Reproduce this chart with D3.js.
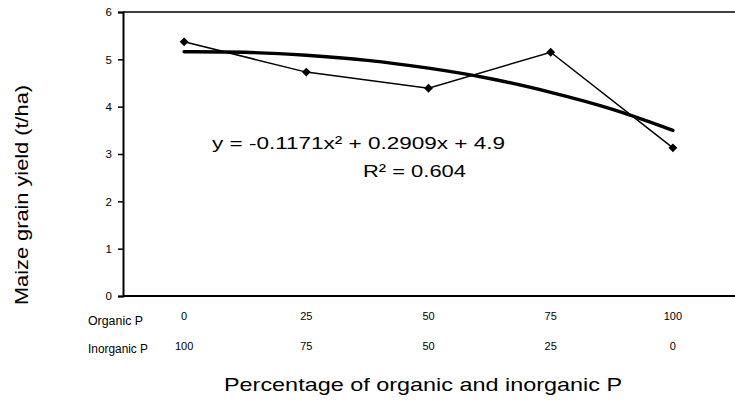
<!DOCTYPE html>
<html>
<head>
<meta charset="utf-8">
<script src="https://cdn.jsdelivr.net/npm/d3@7"></script>
<style>
  body { margin: 0; background: #fff; }
  svg { display: block; font-family: "Liberation Sans", Arial, sans-serif; }
</style>
</head>
<body>
<svg id="chart"></svg>
<script>
// organic / inorganic share of P (%) and measured yield
var organicP = ["0", "25", "50", "75", "100"];
var inorganicP = ["100", "75", "50", "25", "0"];
var yieldValues = [5.37, 4.73, 4.39, 5.15, 3.13];

// polynomial trendline at half-category steps
var trendPos = [0, 0.5, 1, 1.5, 2, 2.5, 3, 3.5, 4];
var trendValues = [5.16, 5.16, 5.09, 4.99, 4.82, 4.61, 4.31, 3.97, 3.50];

var yTicks = [0, 1, 2, 3, 4, 5, 6];
var equation = "y = -0.1171x² + 0.2909x + 4.9";
var rSquared = "R² = 0.604";

var W = 735, H = 404;
var margin = { top: 12, right: 1, bottom: 108, left: 123 };
var width = W - margin.left - margin.right,
    height = H - margin.top - margin.bottom;

var svg = d3.select("#chart").attr("width", W).attr("height", H);
var chart = svg.append("g")
    .attr("transform", "translate(" + margin.left + "," + margin.top + ")");

var x = d3.scaleLinear().domain([-0.5, 4.5]).range([0, width]);
var y = d3.scaleLinear().domain([0, 6]).range([height, 0]);

// frame: top border and bottom axis line
chart.append("line")
    .attr("x1", 0).attr("x2", W - margin.left)
    .attr("y1", 0).attr("y2", 0)
    .attr("stroke", "#000").attr("stroke-width", 1.5);
chart.append("line")
    .attr("x1", 0).attr("x2", W - margin.left)
    .attr("y1", height).attr("y2", height)
    .attr("stroke", "#000").attr("stroke-width", 2);

var yAxis = d3.axisLeft(y).tickValues(yTicks).tickSize(5).tickPadding(6)
    .tickFormat(d3.format("d"));
var yG = chart.append("g").call(yAxis);
yG.select(".domain").attr("stroke-width", 2);
yG.selectAll(".tick line").attr("stroke-width", 1.5);
yG.selectAll(".tick text")
    .attr("font-size", 11.5)
    .attr("font-family", "Liberation Sans, Arial, sans-serif")
    .attr("fill", "#000");

// trendline
var trendLine = d3.line()
    .x(function(d, i) { return x(trendPos[i]); })
    .y(function(d) { return y(d); })
    .curve(d3.curveBasis);
chart.append("path")
    .datum(trendValues)
    .attr("d", trendLine)
    .attr("fill", "none")
    .attr("stroke", "#000")
    .attr("stroke-width", 3.4)
    .attr("stroke-linecap", "round");

// observed series
var dataLine = d3.line()
    .x(function(d, i) { return x(i); })
    .y(function(d) { return y(d); });
chart.append("path")
    .datum(yieldValues)
    .attr("d", dataLine)
    .attr("fill", "none")
    .attr("stroke", "#000")
    .attr("stroke-width", 1.5);

var diamond = d3.symbol().type(d3.symbolDiamond2).size(50);
chart.selectAll(".marker")
    .data(yieldValues)
    .enter().append("path")
    .attr("class", "marker")
    .attr("d", diamond)
    .attr("transform", function(d, i) {
        return "translate(" + x(i) + "," + y(d) + ")";
    })
    .attr("fill", "#000");

// category rows under the axis
chart.selectAll(".org")
    .data(organicP)
    .enter().append("text")
    .attr("x", function(d, i) { return x(i); })
    .attr("y", height + 24)
    .attr("text-anchor", "middle")
    .attr("font-size", 11)
    .text(function(d) { return d; });
chart.selectAll(".inorg")
    .data(inorganicP)
    .enter().append("text")
    .attr("x", function(d, i) { return x(i); })
    .attr("y", height + 54)
    .attr("text-anchor", "middle")
    .attr("font-size", 11)
    .text(function(d) { return d; });

svg.append("text").attr("x", 88).attr("y", 325)
    .attr("font-size", 12)
    .attr("textLength", 55).attr("lengthAdjust", "spacingAndGlyphs")
    .text("Organic P");
svg.append("text").attr("x", 88).attr("y", 353)
    .attr("font-size", 12)
    .attr("textLength", 60).attr("lengthAdjust", "spacingAndGlyphs")
    .text("Inorganic P");

// trendline labels
svg.append("text").attr("x", 212).attr("y", 149)
    .attr("font-size", 17)
    .attr("textLength", 293).attr("lengthAdjust", "spacingAndGlyphs")
    .text(equation);
svg.append("text").attr("x", 363).attr("y", 177)
    .attr("font-size", 17)
    .attr("textLength", 103).attr("lengthAdjust", "spacingAndGlyphs")
    .text(rSquared);

// axis titles
svg.append("text")
    .attr("x", 224).attr("y", 391)
    .attr("font-size", 18.5)
    .attr("textLength", 398).attr("lengthAdjust", "spacingAndGlyphs")
    .text("Percentage of organic and inorganic P");
svg.append("text")
    .attr("transform", "translate(28,305) rotate(-90)")
    .attr("font-size", 18.5)
    .attr("textLength", 220).attr("lengthAdjust", "spacingAndGlyphs")
    .text("Maize grain yield (t/ha)");
</script>
</body>
</html>
